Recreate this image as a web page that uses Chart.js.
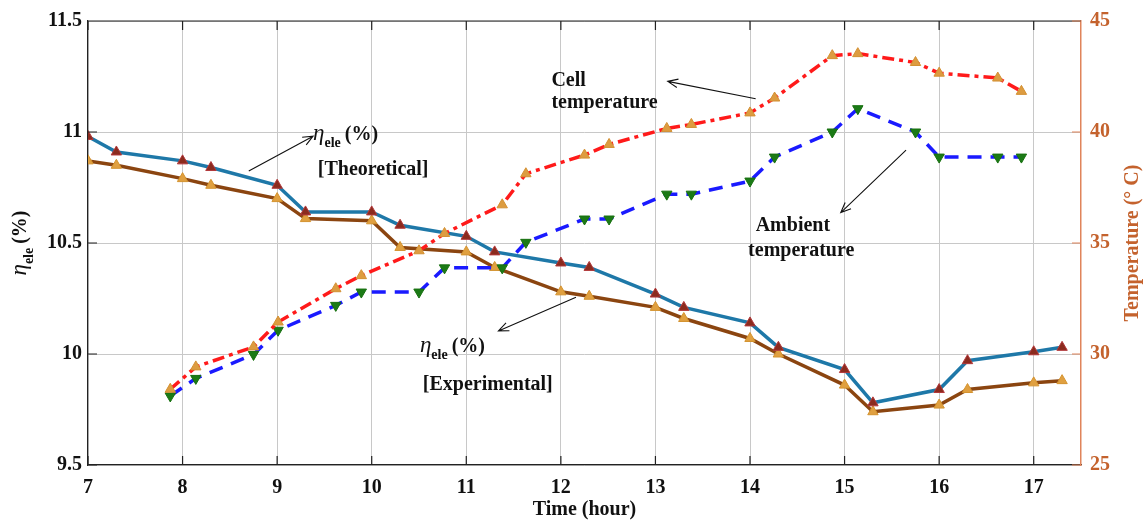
<!DOCTYPE html>
<html lang="en">
<head>
<meta charset="UTF-8">
<title>Electrical efficiency and temperature</title>
<script src="https://cdn.jsdelivr.net/npm/chart.js"></script>
<style>
  body { margin: 0; background: #fff; }
  .chart-box { width: 1143px; height: 523px; position: relative; }
</style>
</head>
<body>
<div class="chart-box"><canvas id="effChart"></canvas></div>
<script>
// efficiency readings
const effHours = [7, 7.3, 8, 8.3, 9, 9.3, 10, 10.3, 11, 11.3, 12, 12.3, 13, 13.3, 14, 14.3, 15, 15.3, 16, 16.3, 17, 17.3];
const effTheoretical = [10.98, 10.91, 10.87, 10.84, 10.76, 10.64, 10.64, 10.58, 10.53, 10.46, 10.41, 10.39, 10.27, 10.21, 10.14, 10.03, 9.93, 9.78, 9.84, 9.97, 10.01, 10.03];
const effExperimental = [10.87, 10.85, 10.79, 10.76, 10.70, 10.61, 10.60, 10.48, 10.46, 10.39, 10.28, 10.26, 10.21, 10.16, 10.07, 10.00, 9.86, 9.74, 9.77, 9.84, 9.87, 9.88];

// temperature readings (right axis)
const tempHours = [7.87, 8.14, 8.75, 9.01, 9.62, 9.89, 10.5, 10.77, 11.38, 11.63, 12.25, 12.51, 13.12, 13.38, 14.0, 14.26, 14.87, 15.14, 15.75, 16.0, 16.62, 16.87];
const cellTemp = [28.41, 29.42, 30.32, 31.44, 32.94, 33.53, 34.65, 35.43, 36.72, 38.12, 38.96, 39.44, 40.16, 40.34, 40.86, 41.53, 43.44, 43.53, 43.13, 42.65, 42.43, 41.83];
const ambientTemp = [28.11, 28.90, 29.98, 31.07, 32.19, 32.79, 32.79, 33.88, 33.88, 35.03, 36.08, 36.08, 37.20, 37.20, 37.79, 38.87, 40.00, 41.05, 40.00, 38.87, 38.87, 38.87];

const effTicks = ['9.5', '10', '10.5', '11', '11.5'];

const serif = '"Liberation Serif", "Times New Roman", serif';
const orange = '#c4622d';

function toPoints(xs, ys) {
    return xs.map((x, i) => ({ x: x, y: ys[i] }));
}

// draws eta with "ele" subscript and "(%)", starting at x, baseline y
function drawEta(ctx, x, y) {
    ctx.textAlign = 'left';
    ctx.textBaseline = 'alphabetic';
    ctx.font = 'italic 23px ' + serif;
    ctx.fillText('\u03b7', x, y);
    x += ctx.measureText('\u03b7').width;
    ctx.font = 'bold 14px ' + serif;
    ctx.fillText('ele', x, y + 7);
    x += ctx.measureText('ele').width + 4;
    ctx.font = 'bold 20px ' + serif;
    ctx.fillText('(%)', x, y);
}

function etaWidth(ctx) {
    let w = 0;
    ctx.font = 'italic 23px ' + serif;
    w += ctx.measureText('\u03b7').width;
    ctx.font = 'bold 14px ' + serif;
    w += ctx.measureText('ele').width + 4;
    ctx.font = 'bold 20px ' + serif;
    w += ctx.measureText('(%)').width;
    return w;
}

function arrow(ctx, x1, y1, x2, y2) {
    const a = Math.atan2(y2 - y1, x2 - x1);
    const len = 11;
    ctx.beginPath();
    ctx.moveTo(x1, y1);
    ctx.lineTo(x2, y2);
    ctx.moveTo(x2 - len * Math.cos(a - 0.4), y2 - len * Math.sin(a - 0.4));
    ctx.lineTo(x2, y2);
    ctx.lineTo(x2 - len * Math.cos(a + 0.4), y2 - len * Math.sin(a + 0.4));
    ctx.stroke();
}

const extrasPlugin = {
    id: 'extras',
    afterDraw(chart) {
        const ctx = chart.ctx;
        const xs = chart.scales.x, ys = chart.scales.y, ts = chart.scales.y2;
        const area = chart.chartArea;
        const px = v => xs.getPixelForValue(v);
        const py = v => ys.getPixelForValue(v);
        ctx.save();

        // top border and inward ticks
        ctx.strokeStyle = '#222';
        ctx.lineWidth = 1.2;
        ctx.beginPath();
        ctx.moveTo(area.left, area.top);
        ctx.lineTo(area.right, area.top);
        xs.ticks.forEach(t => {
            const x = px(t.value);
            ctx.moveTo(x, area.top); ctx.lineTo(x, area.top + 9);
            ctx.moveTo(x, area.bottom); ctx.lineTo(x, area.bottom - 9);
        });
        ys.ticks.forEach(t => {
            const y = py(t.value);
            ctx.moveTo(area.left, y); ctx.lineTo(area.left + 9, y);
        });
        ctx.stroke();
        ctx.strokeStyle = '#e0845a';
        ctx.beginPath();
        ts.ticks.forEach(t => {
            const y = ts.getPixelForValue(t.value);
            ctx.moveTo(area.right, y); ctx.lineTo(area.right - 9, y);
        });
        ctx.stroke();

        // axis titles
        const midY = (area.top + area.bottom) / 2;
        ctx.fillStyle = '#111';
        ctx.save();
        ctx.translate(26, midY);
        ctx.rotate(-Math.PI / 2);
        drawEta(ctx, -etaWidth(ctx) / 2, 0);
        ctx.restore();

        ctx.save();
        ctx.fillStyle = orange;
        ctx.translate(1138, midY);
        ctx.rotate(-Math.PI / 2);
        ctx.font = 'bold 20px ' + serif;
        ctx.textAlign = 'center';
        ctx.fillText('Temperature (\u00b0 C)', 0, 0);
        ctx.restore();

        // annotations
        ctx.fillStyle = '#111';
        ctx.strokeStyle = '#111';
        ctx.lineWidth = 1.1;
        ctx.font = 'bold 20px ' + serif;
        ctx.textAlign = 'left';
        ctx.fillText('Cell', px(11.9), py(11.205));
        ctx.fillText('temperature', px(11.9), py(11.107));
        arrow(ctx, px(14.06), py(11.15), px(13.13), py(11.228));

        drawEta(ctx, px(9.38), py(10.962));
        ctx.font = 'bold 20px ' + serif;
        ctx.fillText('[Theoretical]', px(9.43), py(10.805));
        arrow(ctx, px(8.7), py(10.824), px(9.38), py(10.981));

        drawEta(ctx, px(10.51), py(10.01));
        ctx.font = 'bold 20px ' + serif;
        ctx.fillText('[Experimental]', px(10.54), py(9.84));
        arrow(ctx, px(12.16), py(10.256), px(11.34), py(10.104));

        ctx.fillText('Ambient', px(14.06), py(10.556));
        ctx.fillText('temperature', px(13.98), py(10.44));
        arrow(ctx, px(15.65), py(10.918), px(14.96), py(10.637));

        ctx.restore();
    }
};

new Chart(document.getElementById('effChart'), {
    type: 'line',
    data: {
        datasets: [
            {
                label: 'Cell temperature',
                data: toPoints(tempHours, cellTemp),
                yAxisID: 'y2',
                borderColor: '#ff1a1a',
                borderWidth: 3.5,
                borderDash: [12, 5, 4, 5],
                pointStyle: 'triangle',
                pointRadius: 6,
                pointBackgroundColor: '#dd9c40',
                pointBorderColor: '#d39033',
                pointBorderWidth: 1
            },
            {
                label: 'Ambient temperature',
                data: toPoints(tempHours, ambientTemp),
                yAxisID: 'y2',
                borderColor: '#1a1aff',
                borderWidth: 3.5,
                borderDash: [14, 9],
                pointStyle: 'triangle',
                pointRotation: 180,
                pointRadius: 6,
                pointBackgroundColor: '#1b7a16',
                pointBorderColor: '#17700f',
                pointBorderWidth: 1
            },
            {
                label: 'Theoretical',
                data: toPoints(effHours, effTheoretical),
                yAxisID: 'y',
                borderColor: '#1e78a8',
                borderWidth: 3.5,
                pointStyle: 'triangle',
                pointRadius: 6,
                pointBackgroundColor: '#8b2b1e',
                pointBorderColor: '#b2383a',
                pointBorderWidth: 1
            },
            {
                label: 'Experimental',
                data: toPoints(effHours, effExperimental),
                yAxisID: 'y',
                borderColor: '#8b4510',
                borderWidth: 3.5,
                pointStyle: 'triangle',
                pointRadius: 6,
                pointBackgroundColor: '#e0a040',
                pointBorderColor: '#d4932f',
                pointBorderWidth: 1
            }
        ]
    },
    options: {
        responsive: true,
        maintainAspectRatio: false,
        animation: false,
        layout: { padding: { top: 19, left: 0, right: 0, bottom: 0 } },
        plugins: {
            legend: { display: false },
            tooltip: { enabled: false }
        },
        elements: { line: { tension: 0 } },
        scales: {
            x: {
                type: 'linear',
                min: 7,
                max: 17.5,
                afterFit(scale) { scale.height = 58; },
                ticks: {
                    stepSize: 1,
                    includeBounds: false,
                    padding: 11,
                    color: '#111',
                    font: { family: serif, size: 20, weight: 'bold' }
                },
                grid: { color: '#c8c8c8', lineWidth: 1, drawTicks: false },
                border: { color: '#222', width: 1.2 },
                title: {
                    display: true,
                    text: 'Time (hour)',
                    color: '#111',
                    font: { family: serif, size: 20, weight: 'bold' },
                    padding: { top: 0, bottom: 1 }
                }
            },
            y: {
                position: 'left',
                min: 9.5,
                max: 11.5,
                afterFit(scale) { scale.width = 88; },
                ticks: {
                    stepSize: 0.5,
                    padding: 6,
                    color: '#111',
                    font: { family: serif, size: 20, weight: 'bold' },
                    callback: (v, i) => effTicks[i]
                },
                grid: { color: '#c8c8c8', lineWidth: 1, drawTicks: false },
                border: { color: '#222', width: 1.2 }
            },
            y2: {
                position: 'right',
                min: 25,
                max: 45,
                afterFit(scale) { scale.width = 62; },
                ticks: {
                    stepSize: 5,
                    padding: 9,
                    color: orange,
                    font: { family: serif, size: 20, weight: 'bold' }
                },
                grid: { drawOnChartArea: false, drawTicks: false },
                border: { color: '#e0845a', width: 1.5 }
            }
        }
    },
    plugins: [extrasPlugin]
});
</script>
</body>
</html>
